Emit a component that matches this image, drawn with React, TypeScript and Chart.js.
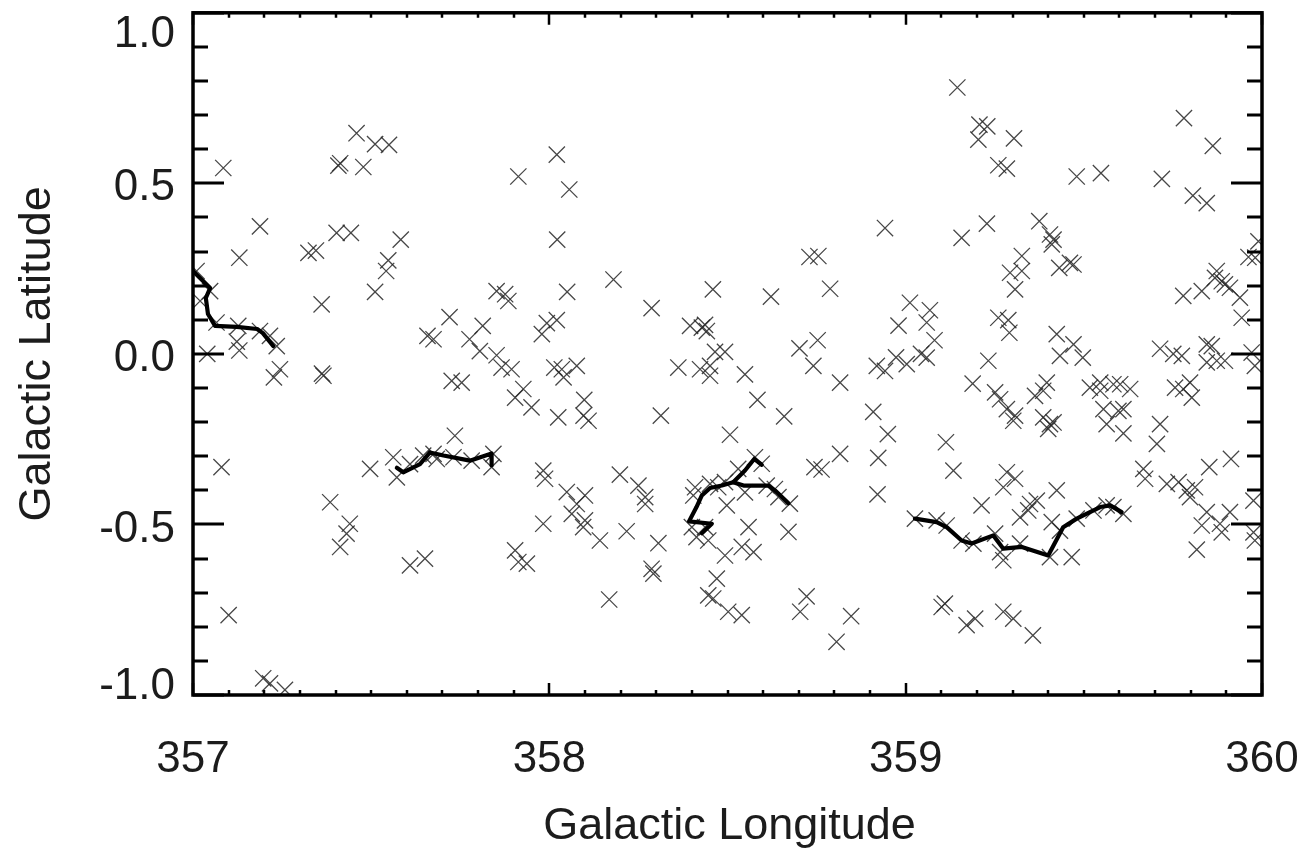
import React, { useEffect, useRef } from "react";
import { Chart, registerables } from "chart.js";

Chart.register(...registerables);

// Axis ticks and labels
const xTickValues = [357, 358, 359, 360];
const xTickLabels = ["357", "358", "359", "360"];
const yTickValues = [1.0, 0.5, 0.0, -0.5, -1.0];
const yTickLabels = ["1.0", "0.5", "0.0", "-0.5", "-1.0"];
const xTitle = "Galactic Longitude";
const yTitle = "Galactic Latitude";

// Sources (Galactic longitude, latitude)
const crossPoints: [number, number][] = [
  // 357.0 - 358.0, upper half
  [357.01, 0.243], [357.048, 0.184], [357.02, 0.155], [357.066, 0.092], [357.127, 0.082],
  [357.188, 0.067], [357.216, 0.053], [357.235, 0.023], [357.123, 0.036], [357.13, 0.01],
  [357.04, 0.0], [357.085, 0.545], [357.188, 0.374], [357.13, 0.282], [357.324, 0.296],
  [357.345, 0.303], [357.361, 0.145], [357.413, 0.559], [357.408, 0.552], [357.459, 0.647],
  [357.478, 0.548], [357.511, 0.615], [357.55, 0.613], [357.403, 0.355], [357.443, 0.355],
  [357.583, 0.335], [357.548, 0.274], [357.542, 0.243], [357.511, 0.182], [357.913, 0.52],
  [357.852, 0.184], [357.876, 0.175], [357.885, 0.155], [357.72, 0.108], [357.813, 0.082],
  [357.658, 0.053], [357.675, 0.043], [357.776, 0.043], [357.979, 0.058], [357.993, 0.09],
  [357.805, 0.008], [357.852, -0.004],
  // 357.0 - 358.0, lower half
  [357.227, -0.069], [357.244, -0.045], [357.362, -0.058], [357.366, -0.064], [357.08, -0.332],
  [357.1, -0.766], [357.197, -0.951], [357.216, -0.966], [357.258, -0.985], [357.385, -0.435],
  [357.44, -0.498], [357.431, -0.527], [357.413, -0.566], [357.497, -0.337], [357.562, -0.303],
  [357.572, -0.362], [357.609, -0.62], [357.651, -0.6], [357.735, -0.24], [357.726, -0.079],
  [357.754, -0.084], [357.866, -0.04], [357.894, -0.045], [357.927, -0.103], [357.904, -0.128],
  [357.95, -0.157], [357.904, -0.576], [357.913, -0.61], [357.937, -0.615], [357.983, -0.498],
  [357.983, -0.342], [357.988, -0.366], [358.014, -0.04],
  [357.609, -0.323], [357.646, -0.298], [357.675, -0.293], [357.684, -0.308], [357.731, -0.303],
  [357.782, -0.313], [357.843, -0.293], [357.838, -0.332],
  // 358.0 - 359.0, upper half
  [358.021, 0.584], [358.056, 0.482], [358.022, 0.335], [358.18, 0.218], [358.05, 0.182],
  [358.287, 0.134], [358.459, 0.189], [358.622, 0.168], [358.73, 0.284], [358.755, 0.287],
  [358.788, 0.191], [358.942, 0.369], [358.021, 0.099], [358.395, 0.082], [358.428, 0.077],
  [358.437, 0.085], [358.442, 0.067], [358.465, 0.006], [358.493, 0.006], [358.702, 0.016],
  [358.753, 0.04], [358.98, 0.083], [358.973, -0.01],
  // 358.0 - 359.0, lower half
  [358.035, -0.045], [358.04, -0.069], [358.077, -0.035], [358.362, -0.04], [358.423, -0.045],
  [358.451, -0.035], [358.451, -0.064], [358.549, -0.06], [358.741, -0.035], [358.816, -0.084],
  [358.919, -0.035], [358.942, -0.05], [358.025, -0.186], [358.098, -0.135], [358.096, -0.181],
  [358.11, -0.196], [358.313, -0.181], [358.584, -0.135], [358.659, -0.183], [358.507, -0.237],
  [358.909, -0.17], [358.95, -0.235], [358.816, -0.293], [358.923, -0.305], [358.921, -0.412],
  [358.744, -0.332], [358.764, -0.339], [358.198, -0.354], [358.25, -0.386], [358.269, -0.42],
  [358.269, -0.44], [358.049, -0.405], [358.1, -0.415], [358.077, -0.44], [358.063, -0.469],
  [358.1, -0.488], [358.095, -0.508], [358.142, -0.547], [358.217, -0.52], [358.306, -0.555],
  [358.287, -0.63], [358.292, -0.644], [358.168, -0.72], [358.47, -0.659], [358.446, -0.708],
  [358.46, -0.717], [358.502, -0.756], [358.54, -0.766], [358.493, -0.591], [358.54, -0.566],
  [358.573, -0.581], [358.559, -0.508], [358.671, -0.522], [358.722, -0.711], [358.704, -0.756],
  [358.847, -0.769], [358.806, -0.844],
  [358.409, -0.391], [358.404, -0.415], [358.451, -0.381], [358.474, -0.391], [358.493, -0.376],
  [358.53, -0.337], [358.549, -0.406], [358.577, -0.303], [358.596, -0.322], [358.61, -0.386],
  [358.633, -0.396], [358.643, -0.42], [358.675, -0.439], [358.498, -0.444], [358.4, -0.508],
  [358.413, -0.537], [358.446, -0.547], [358.437, -0.508],
  // 359.0 - 360.0, upper half
  [359.145, 0.781], [359.207, 0.672], [359.229, 0.667], [359.204, 0.628], [359.304, 0.632],
  [359.26, 0.553], [359.284, 0.543], [359.48, 0.52], [359.548, 0.53], [359.719, 0.513],
  [359.781, 0.691], [359.862, 0.61], [359.806, 0.464], [359.845, 0.442], [359.157, 0.34],
  [359.228, 0.382], [359.375, 0.389], [359.405, 0.35], [359.415, 0.335], [359.41, 0.321],
  [359.326, 0.287], [359.293, 0.238], [359.326, 0.243], [359.307, 0.189], [359.431, 0.252],
  [359.461, 0.267], [359.471, 0.262], [359.012, 0.15], [359.068, 0.128], [359.059, 0.092],
  [359.081, 0.04], [359.26, 0.106], [359.288, 0.099], [359.291, 0.062], [359.424, 0.058],
  [359.471, 0.028], [359.043, 0.0], [359.779, 0.17], [359.831, 0.184], [359.873, 0.243],
  [359.868, 0.223], [359.887, 0.213], [359.896, 0.204], [359.91, 0.194], [359.938, 0.165],
  [359.943, 0.106], [359.962, 0.284], [359.981, 0.282], [359.99, 0.33], [359.714, 0.015],
  [359.751, 0.0], [359.775, -0.006], [359.845, 0.028], [359.859, 0.023], [359.971, 0.004],
  // 359.0 - 360.0, lower half
  [359.003, -0.03], [359.059, -0.011], [359.232, -0.02], [359.433, -0.006], [359.497, -0.011],
  [359.188, -0.087], [359.251, -0.113], [359.265, -0.133], [359.284, -0.162], [359.307, -0.181],
  [359.302, -0.196], [359.363, -0.123], [359.396, -0.084], [359.386, -0.108], [359.386, -0.186],
  [359.405, -0.206], [359.4, -0.22], [359.415, -0.201], [359.517, -0.099], [359.546, -0.084],
  [359.546, -0.108], [359.583, -0.089], [359.602, -0.089], [359.63, -0.103], [359.555, -0.162],
  [359.564, -0.206], [359.597, -0.167], [359.611, -0.162], [359.611, -0.233], [359.714, -0.206],
  [359.705, -0.264], [359.756, -0.099], [359.779, -0.103], [359.798, -0.084], [359.803, -0.128],
  [359.845, -0.025], [359.873, -0.02], [359.896, -0.02], [359.98, -0.035], [359.113, -0.259],
  [359.134, -0.342], [359.284, -0.347], [359.307, -0.366], [359.274, -0.391], [359.424, -0.4],
  [359.213, -0.444], [359.349, -0.44], [359.368, -0.43], [359.321, -0.479], [359.344, -0.459],
  [359.667, -0.337], [359.672, -0.366], [359.733, -0.381], [359.766, -0.376], [359.789, -0.4],
  [359.812, -0.391], [359.798, -0.42], [359.852, -0.332], [359.913, -0.308], [359.845, -0.464],
  [359.91, -0.464], [359.831, -0.503], [359.882, -0.498], [359.887, -0.523], [359.817, -0.574],
  [359.976, -0.43], [359.976, -0.523], [359.98, -0.547], [359.101, -0.742], [359.11, -0.732],
  [359.171, -0.795], [359.195, -0.776], [359.274, -0.756], [359.302, -0.776], [359.357, -0.825],
  [359.466, -0.596],
  [359.026, -0.483], [359.087, -0.488], [359.115, -0.503], [359.157, -0.547], [359.19, -0.556],
  [359.251, -0.527], [359.265, -0.581], [359.274, -0.605], [359.321, -0.556], [359.41, -0.493],
  [359.405, -0.596], [359.433, -0.518], [359.48, -0.483], [359.527, -0.459], [359.564, -0.444],
  [359.583, -0.449], [359.611, -0.469],
];

// Filaments (thick black traces)
const filament1: [number, number][] = [
  [357.0, 0.243], [357.048, 0.193], [357.036, 0.164], [357.042, 0.117], [357.062, 0.082],
  [357.123, 0.079], [357.18, 0.073], [357.196, 0.061], [357.225, 0.023],
];
const filament2: [number, number][] = [
  [357.572, -0.334], [357.59, -0.347], [357.637, -0.323], [357.665, -0.289], [357.703, -0.298],
  [357.777, -0.313], [357.838, -0.292], [357.838, -0.327],
];
const filament3a: [number, number][] = [
  [358.428, -0.526], [358.456, -0.498], [358.392, -0.491], [358.413, -0.449], [358.428, -0.415],
  [358.451, -0.393], [358.484, -0.386], [358.516, -0.376], [358.549, -0.342], [358.575, -0.308],
  [358.596, -0.325],
];
const filament3b: [number, number][] = [
  [358.516, -0.376], [358.545, -0.386], [358.615, -0.386], [358.633, -0.4], [358.671, -0.438],
];
const filament4: [number, number][] = [
  [359.026, -0.483], [359.087, -0.493], [359.115, -0.508], [359.157, -0.547], [359.185, -0.556],
  [359.246, -0.532], [359.274, -0.571], [359.326, -0.566], [359.4, -0.591], [359.442, -0.508],
  [359.48, -0.483], [359.546, -0.449], [359.574, -0.444], [359.606, -0.464],
];

const filaments = [filament1, filament2, filament3a, filament3b, filament4];

const FONT = '"Liberation Sans", Arial, Helvetica, sans-serif';
const INK = "#1c1c1c";

const framePlugin = {
  id: "idlFrame",
  beforeDraw(chart: any) {
    const { ctx, width, height } = chart;
    ctx.save();
    ctx.fillStyle = "#ffffff";
    ctx.fillRect(0, 0, width, height);
    ctx.restore();
  },
  afterDatasetsDraw(chart: any) {
    const { ctx, chartArea: a, scales } = chart;
    const x = scales.x;
    const y = scales.y;
    ctx.save();
    ctx.strokeStyle = "#000";
    ctx.lineCap = "butt";

    // y ticks (left and right), every 0.1, major every 0.5
    ctx.lineWidth = 3;
    for (let i = 0; i <= 20; i++) {
      const v = -1 + i * 0.1;
      const py = Math.round(y.getPixelForValue(v));
      const len = i % 5 === 0 ? 31 : 15;
      ctx.beginPath();
      ctx.moveTo(a.left, py);
      ctx.lineTo(a.left + len, py);
      ctx.moveTo(a.right, py);
      ctx.lineTo(a.right - len, py);
      ctx.stroke();
    }
    // x ticks (top and bottom), every 0.1, major every 1
    ctx.lineWidth = 2.5;
    for (let i = 0; i <= 30; i++) {
      const v = 357 + i * 0.1;
      const px = Math.round(x.getPixelForValue(v));
      const len = i % 10 === 0 ? 12 : 5;
      ctx.beginPath();
      ctx.moveTo(px, a.bottom);
      ctx.lineTo(px, a.bottom - len);
      ctx.moveTo(px, a.top);
      ctx.lineTo(px, a.top + len);
      ctx.stroke();
    }
    // frame
    ctx.lineWidth = 3.5;
    ctx.strokeRect(a.left, a.top, a.right - a.left, a.bottom - a.top);

    // tick labels
    ctx.fillStyle = INK;
    ctx.font = `44px ${FONT}`;
    ctx.textAlign = "right";
    ctx.textBaseline = "middle";
    yTickValues.forEach((v, i) => {
      const py = y.getPixelForValue(v) + 5;
      const cy = Math.min(Math.max(py, a.top + 22), a.bottom - 8);
      ctx.fillText(yTickLabels[i], a.left - 18, cy);
    });
    ctx.textAlign = "center";
    xTickValues.forEach((v, i) => {
      const px = x.getPixelForValue(v);
      ctx.fillText(xTickLabels[i], px, a.bottom + 65);
    });

    // axis titles
    ctx.font = `45px ${FONT}`;
    ctx.fillText(xTitle, (a.left + a.right) / 2 + 2, a.bottom + 132);
    ctx.save();
    ctx.translate(38, (a.top + a.bottom) / 2);
    ctx.rotate(-Math.PI / 2);
    ctx.fillText(yTitle, 0, 0);
    ctx.restore();

    ctx.restore();
  },
};

export default function App() {
  const canvasRef = useRef<HTMLCanvasElement | null>(null);

  useEffect(() => {
    const canvas = canvasRef.current;
    if (!canvas) return;

    const lineSets = filaments.map((f) => ({
      type: "scatter" as const,
      data: f.map(([lon, lat]) => ({ x: lon, y: lat })),
      showLine: true,
      borderColor: "#000000",
      borderWidth: 4.2,
      pointRadius: 0,
      pointHoverRadius: 0,
      fill: false,
      tension: 0,
      borderJoinStyle: "round" as const,
      borderCapStyle: "round" as const,
      clip: 0,
      order: 0,
    }));

    const crossSet = {
      type: "scatter" as const,
      data: crossPoints.map(([lon, lat]) => ({ x: lon, y: lat })),
      showLine: false,
      pointStyle: "crossRot" as const,
      pointRadius: 11.5,
      pointHoverRadius: 11.5,
      borderColor: "rgba(40,40,40,0.85)",
      backgroundColor: "rgba(40,40,40,0.85)",
      pointBorderWidth: 1.3,
      borderWidth: 1.3,
      clip: 0,
      order: 1,
    };

    const chart = new Chart(canvas, {
      type: "scatter",
      data: { datasets: [...lineSets, crossSet] as any },
      options: {
        animation: false,
        responsive: false,
        maintainAspectRatio: false,
        devicePixelRatio: 1,
        events: [],
        layout: { padding: { left: 193, top: 11, right: 43, bottom: 157 } },
        plugins: {
          legend: { display: false },
          tooltip: { enabled: false },
        },
        scales: {
          x: { type: "linear", min: 357, max: 360, display: false },
          y: { type: "linear", min: -1, max: 1, display: false },
        },
      },
      plugins: [framePlugin],
    });

    return () => chart.destroy();
  }, []);

  return (
    <div style={{ position: "absolute", left: 0, top: 0, width: 1305, height: 852, background: "#fff" }}>
      <canvas ref={canvasRef} width={1305} height={852} style={{ width: 1305, height: 852, display: "block" }} />
    </div>
  );
}
